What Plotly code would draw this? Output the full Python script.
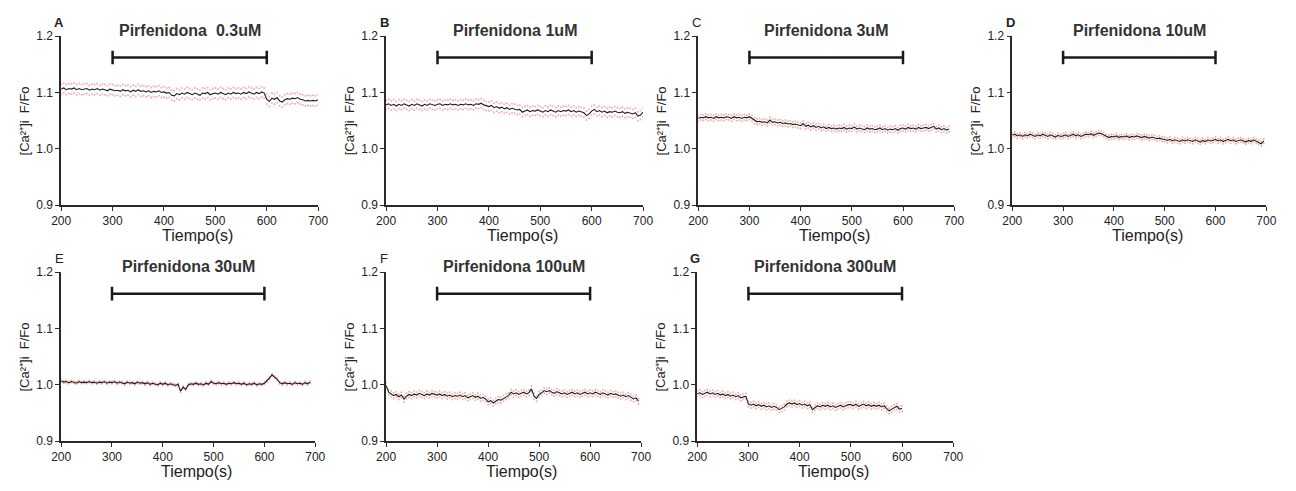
import plotly.graph_objects as go

W, H = 1296, 491

letters = ["A", "B", "C", "D", "E", "F", "G"]
letter_bold = [True, True, False, True, False, False, True]
titles = ["Pirfenidona  0.3uM", "Pirfenidona 1uM", "Pirfenidona 3uM", "Pirfenidona 10uM",
          "Pirfenidona 30uM", "Pirfenidona 100uM", "Pirfenidona 300uM"]
y_title = "[Ca²⁺]i  F/Fo"
x_title = "Tiempo(s)"

t_start = 200
t_step = 5

mean_A = [1.106,1.108,1.105,1.107,1.106,1.108,1.105,1.107,1.105,1.106,
          1.107,1.104,1.106,1.105,1.107,1.104,1.106,1.105,1.103,1.106,
          1.105,1.103,1.104,1.102,1.105,1.103,1.104,1.101,1.104,1.102,
          1.105,1.102,1.103,1.101,1.103,1.100,1.102,1.101,1.103,1.100,
          1.101,1.099,1.100,1.095,1.094,1.098,1.096,1.099,1.097,1.100,
          1.098,1.096,1.099,1.097,1.095,1.099,1.098,1.100,1.096,1.098,
          1.099,1.097,1.100,1.098,1.096,1.099,1.097,1.100,1.098,1.099,
          1.097,1.100,1.098,1.101,1.099,1.097,1.100,1.098,1.101,1.099,
          1.088,1.084,1.090,1.088,1.091,1.085,1.083,1.087,1.089,1.088,
          1.090,1.089,1.091,1.088,1.087,1.085,1.086,1.085,1.086,1.085,
          1.087]
mean_B = [1.078,1.080,1.077,1.079,1.076,1.079,1.077,1.080,1.078,1.076,
          1.079,1.077,1.080,1.078,1.076,1.079,1.077,1.080,1.078,1.077,
          1.079,1.080,1.077,1.079,1.078,1.080,1.078,1.079,1.077,1.079,
          1.078,1.080,1.078,1.079,1.077,1.080,1.079,1.081,1.078,1.076,
          1.075,1.077,1.073,1.075,1.072,1.074,1.071,1.073,1.070,1.072,
          1.071,1.069,1.070,1.065,1.067,1.069,1.066,1.068,1.067,1.069,
          1.067,1.065,1.068,1.066,1.069,1.067,1.065,1.068,1.066,1.068,
          1.067,1.069,1.066,1.068,1.065,1.067,1.066,1.064,1.059,1.062,
          1.067,1.070,1.066,1.068,1.065,1.067,1.064,1.066,1.065,1.067,
          1.065,1.064,1.066,1.063,1.065,1.064,1.062,1.064,1.058,1.060,
          1.065]
mean_C = [1.054,1.056,1.055,1.057,1.055,1.056,1.054,1.057,1.055,1.056,
          1.055,1.057,1.056,1.054,1.057,1.055,1.056,1.054,1.056,1.055,
          1.057,1.054,1.050,1.048,1.049,1.047,1.048,1.046,1.051,1.047,
          1.048,1.046,1.047,1.045,1.046,1.044,1.045,1.043,1.044,1.042,
          1.041,1.045,1.040,1.042,1.039,1.041,1.038,1.040,1.037,1.039,
          1.036,1.038,1.036,1.037,1.035,1.037,1.036,1.038,1.035,1.037,
          1.036,1.039,1.035,1.037,1.036,1.034,1.037,1.035,1.036,1.034,
          1.035,1.037,1.034,1.036,1.033,1.035,1.034,1.036,1.033,1.036,
          1.037,1.035,1.038,1.036,1.037,1.035,1.038,1.036,1.037,1.038,
          1.036,1.038,1.040,1.035,1.037,1.034,1.036,1.033,1.035]
mean_D = [1.024,1.026,1.023,1.025,1.022,1.025,1.023,1.026,1.024,1.022,
          1.025,1.023,1.026,1.024,1.022,1.025,1.023,1.021,1.024,1.022,
          1.023,1.025,1.022,1.024,1.026,1.023,1.025,1.022,1.024,1.026,
          1.025,1.027,1.024,1.026,1.028,1.027,1.025,1.022,1.020,1.022,
          1.021,1.023,1.020,1.022,1.021,1.023,1.020,1.022,1.021,1.023,
          1.022,1.020,1.022,1.021,1.019,1.021,1.020,1.018,1.019,1.017,
          1.017,1.015,1.017,1.014,1.016,1.015,1.013,1.016,1.014,1.016,
          1.015,1.013,1.016,1.014,1.012,1.015,1.013,1.016,1.014,1.015,
          1.017,1.014,1.016,1.013,1.015,1.017,1.014,1.016,1.013,1.015,
          1.016,1.014,1.012,1.015,1.013,1.016,1.014,1.012,1.009,1.014]
mean_E = [1.007,1.005,1.006,1.004,1.006,1.005,1.003,1.006,1.004,1.005,
          1.004,1.006,1.004,1.005,1.003,1.005,1.004,1.006,1.003,1.005,
          1.004,1.006,1.003,1.005,1.004,1.002,1.005,1.003,1.004,1.002,
          1.005,1.003,1.004,1.002,1.004,1.001,1.003,1.002,1.000,1.003,
          1.001,1.003,1.000,1.002,1.001,0.999,1.001,0.989,0.996,0.992,
          1.000,1.002,1.001,1.003,1.001,1.002,1.000,1.003,1.001,1.006,
          1.003,1.002,1.004,1.002,1.003,1.001,1.003,1.002,1.004,1.002,
          1.003,1.001,1.003,1.000,1.002,1.001,1.003,1.000,1.002,1.001,
          1.003,1.007,1.012,1.018,1.014,1.010,1.004,1.002,1.004,1.002,
          1.003,1.001,1.004,1.002,1.003,1.001,1.004,1.002,1.005]
mean_F = [0.999,0.987,0.984,0.981,0.983,0.979,0.982,0.975,0.980,0.983,
          0.981,0.984,0.982,0.985,0.983,0.981,0.984,0.982,0.985,0.983,
          0.982,0.984,0.981,0.983,0.980,0.982,0.979,0.981,0.980,0.982,
          0.979,0.981,0.977,0.979,0.981,0.978,0.980,0.976,0.978,0.975,
          0.970,0.972,0.968,0.971,0.974,0.973,0.976,0.979,0.981,0.987,
          0.984,0.986,0.983,0.985,0.987,0.984,0.986,0.993,0.980,0.976,
          0.983,0.986,0.990,0.988,0.990,0.987,0.985,0.988,0.986,0.984,
          0.986,0.983,0.985,0.987,0.984,0.986,0.983,0.985,0.987,0.984,
          0.986,0.984,0.987,0.985,0.983,0.986,0.984,0.982,0.985,0.983,
          0.984,0.982,0.980,0.982,0.979,0.981,0.978,0.975,0.977,0.971]
mean_G = [0.984,0.986,0.983,0.985,0.987,0.984,0.986,0.983,0.985,0.982,
          0.984,0.981,0.983,0.980,0.982,0.979,0.981,0.977,0.979,0.980,
          0.966,0.964,0.966,0.963,0.965,0.962,0.964,0.961,0.963,0.960,
          0.962,0.960,0.956,0.958,0.961,0.966,0.968,0.966,0.968,0.965,
          0.967,0.964,0.966,0.963,0.965,0.956,0.960,0.963,0.961,0.964,
          0.962,0.964,0.961,0.963,0.960,0.962,0.964,0.961,0.963,0.965,
          0.965,0.963,0.966,0.962,0.964,0.966,0.963,0.965,0.962,0.964,
          0.962,0.964,0.961,0.963,0.958,0.954,0.957,0.960,0.962,0.957,
          0.958]

means = [mean_A, mean_B, mean_C, mean_D, mean_E, mean_F, mean_G]
sem = [0.009, 0.008, 0.005, 0.004, 0.002, 0.005, 0.005]

bar_start, bar_end, bar_level, bar_cap = 300, 600, 1.162, 0.012

x_ticks = [200, 300, 400, 500, 600, 700]
y_ticks = [0.9, 1.0, 1.1, 1.2]
y_ticktext = ["0.9", "1.0", "1.1", "1.2"]

# layout (pixel boxes of each plot area)
px_x = [(52, 313), (382, 643), (699, 959), (1018, 1276), (52, 310), (382, 641), (698, 958)]
px_y = [(30, 204)] * 4 + [(273, 447)] * 3

FONT = "Liberation Sans, Arial, sans-serif"
AX = "#2a2a2a"

fig = go.Figure()
layout = dict(width=W, height=H, autosize=False, margin=dict(l=0, r=0, t=0, b=0),
              paper_bgcolor="white", plot_bgcolor="white", showlegend=False,
              font=dict(family=FONT, color="#222", size=12))
annotations = []

for i in range(7):
    n = i + 1
    xa = "x" if n == 1 else f"x{n}"
    ya = "y" if n == 1 else f"y{n}"
    x0, x1 = px_x[i]
    y0, y1 = px_y[i]
    xd = [x0 / W, x1 / W]
    yd = [1 - y1 / H, 1 - y0 / H]
    common = dict(showline=True, linecolor=AX, linewidth=1.5, ticks="outside", ticklen=4,
                  tickwidth=1.2, tickcolor=AX, showgrid=False, zeroline=False,
                  tickfont=dict(family=FONT, size=12, color="#222"))
    layout["xaxis" if n == 1 else f"xaxis{n}"] = dict(
        domain=xd, anchor=ya, range=[200, 700], tickvals=x_ticks, **common)
    layout["yaxis" if n == 1 else f"yaxis{n}"] = dict(
        domain=yd, anchor=xa, range=[0.9, 1.2], tickvals=y_ticks, ticktext=y_ticktext, **common)

    m = means[i]
    t = [t_start + t_step * k for k in range(len(m))]
    up = [v + sem[i] for v in m]
    lo = [v - sem[i] for v in m]
    for band in (up, lo):
        fig.add_trace(go.Scatter(x=t, y=band, mode="markers", xaxis=xa, yaxis=ya,
                                 marker=dict(size=2, color="rgba(230,100,100,0.5)"),
                                 hoverinfo="skip"))
    fig.add_trace(go.Scatter(x=t, y=m, mode="lines", xaxis=xa, yaxis=ya,
                             line=dict(color="#1c1c1c", width=1.1)))
    # treatment bar
    fig.add_trace(go.Scatter(
        x=[bar_start, bar_end, None, bar_start, bar_start, None, bar_end, bar_end],
        y=[bar_level, bar_level, None, bar_level - bar_cap, bar_level + bar_cap, None,
           bar_level - bar_cap, bar_level + bar_cap],
        mode="lines", xaxis=xa, yaxis=ya, line=dict(color="#1a1a1a", width=2.5),
        hoverinfo="skip"))

    cx = (x0 + x1) / 2
    # title
    annotations.append(dict(text=titles[i], x=cx / W, y=1 - (y0 - 6) / H,
                            xref="paper", yref="paper", showarrow=False,
                            xanchor="center", yanchor="middle",
                            font=dict(family=FONT, size=16, color="#333", weight="bold")))
    # letter
    annotations.append(dict(text=letters[i], x=(x0 - 2) / W, y=1 - (y0 - 14) / H,
                            xref="paper", yref="paper", showarrow=False,
                            xanchor="center", yanchor="middle",
                            font=dict(family=FONT, size=13, color="#222",
                                      weight="bold" if letter_bold[i] else "normal")))
    # y title
    annotations.append(dict(text=y_title, x=(x0 - 37) / W,
                            y=1 - ((y0 + y1) / 2) / H, xref="paper", yref="paper",
                            showarrow=False, textangle=-90, xanchor="center", yanchor="middle",
                            font=dict(family=FONT, size=13, color="#222")))
    # x title
    annotations.append(dict(text=x_title, x=(cx + 8) / W, y=1 - (y1 + 31) / H,
                            xref="paper", yref="paper", showarrow=False,
                            xanchor="center", yanchor="middle",
                            font=dict(family=FONT, size=16, color="#222")))

layout["annotations"] = annotations
fig.update_layout(**layout)
fig.write_html("out.html")
